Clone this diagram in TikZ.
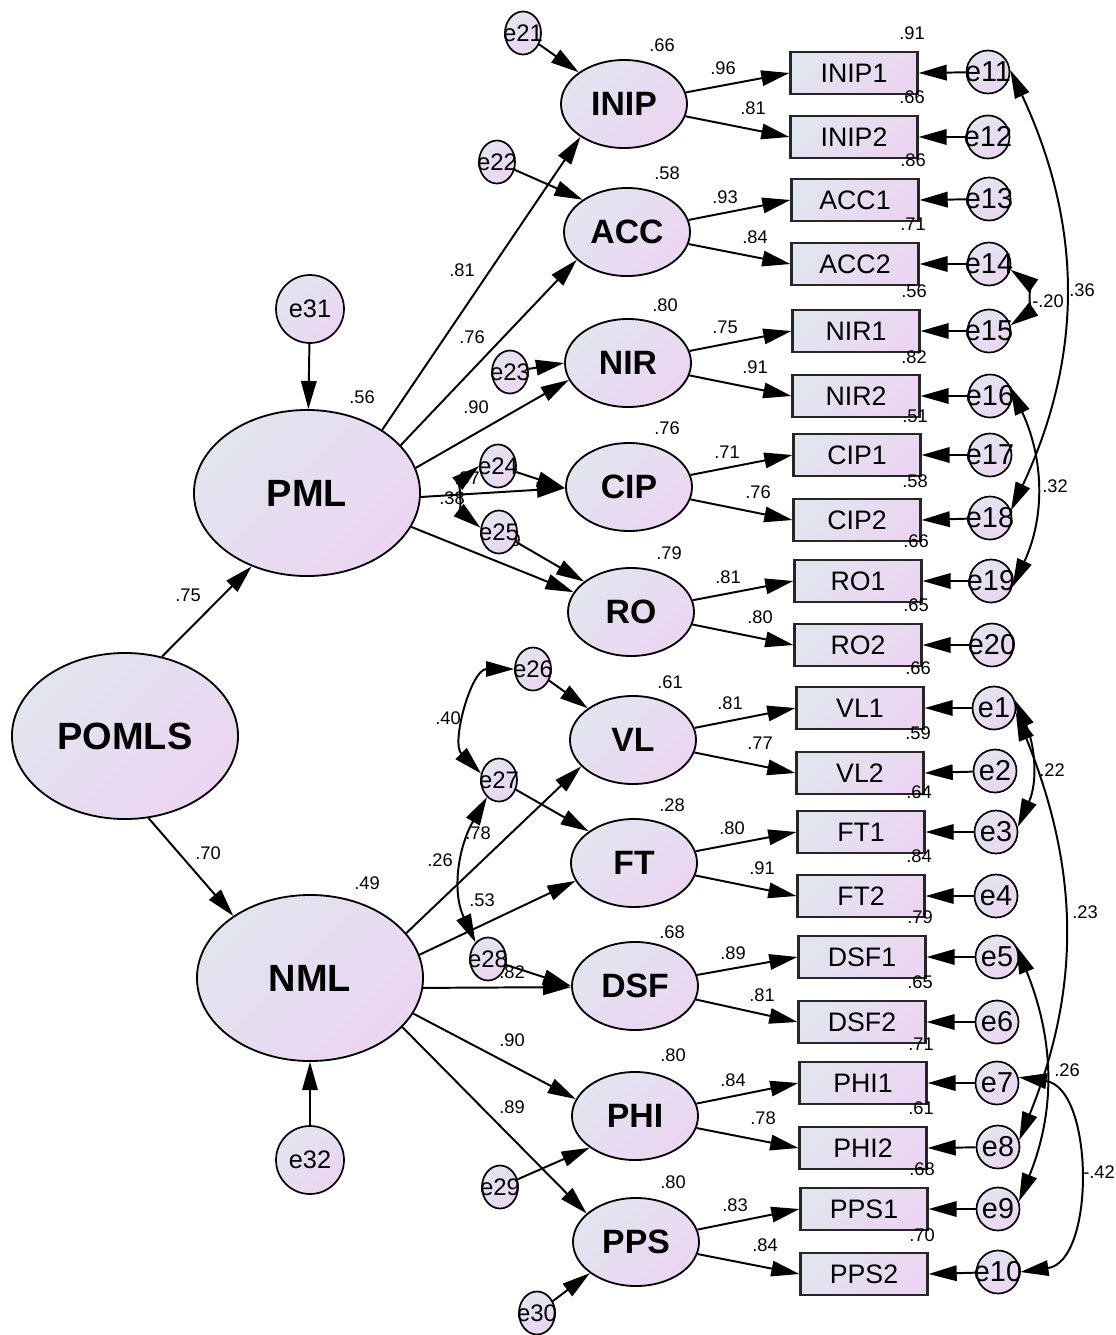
\documentclass[tikz,border=0pt]{standalone}
\usepackage{fontspec}
\setmainfont{Liberation Sans}
\usetikzlibrary{arrows.meta,shapes.geometric}
\definecolor{fillL}{RGB}{225,229,239}
\definecolor{fillR}{RGB}{236,213,242}
\newcommand{\zw}[1]{\makebox[0pt]{#1}}
\tikzset{
  shaded/.style={left color=fillL, right color=fillR, shading angle=45},
  second/.style={ellipse, draw, line width=1.3pt, shaded, minimum width=5.65cm, minimum height=4.15cm,
    font=\fontsize{27}{30}\selectfont\bfseries},
  first/.style={ellipse, draw, line width=1.3pt, shaded, inner sep=1pt, minimum width=3.15cm, minimum height=2.2cm,
    font=\fontsize{24}{28}\selectfont\bfseries},
  obs/.style={rectangle, draw=black!85, line width=1.5pt, shaded, inner sep=0pt, minimum width=3.175cm, minimum height=1.05cm,
    font=\fontsize{19}{22}\selectfont},
  err/.style={circle, draw, line width=1.2pt, shaded, inner sep=0pt, minimum size=1.075cm, font=\fontsize{20.5}{24}\selectfont},
  bigerr/.style={circle, draw, line width=1.2pt, shaded, inner sep=0pt, minimum size=1.7cm, font=\fontsize{18}{21}\selectfont},
  dist/.style={ellipse, draw, line width=1.2pt, shaded, inner sep=0pt, minimum width=0.9cm, minimum height=1.075cm,
    font=\fontsize{17}{20}\selectfont},
  num/.style={inner sep=0pt, font=\fontsize{13}{15}\selectfont},
  reg/.style={-{Triangle[length=20pt,width=11pt]}, line width=1.4pt},
  cov/.style={{Triangle[length=20pt,width=11pt]}-{Triangle[length=20pt,width=11pt]}, line width=1.4pt},
}
\begin{document}
\begin{tikzpicture}[x=0.025cm, y=-0.025cm]
  \useasboundingbox (0,0) rectangle (1116,1335);

  % path and covariance estimates (under the nodes)
  \node[num] at (188,595) {.75};
  \node[num] at (208,853) {.70};
  \node[num] at (462,270) {.81};
  \node[num] at (472,337) {.76};
  \node[num] at (476,407) {.90};
  \node[num] at (467,478) {.87};
  \node[num] at (508,540) {.89};
  \node[num] at (452,498) {.38};
  \node[num] at (448,718) {.40};
  \node[num] at (478,833) {.78};
  \node[num] at (440,860) {.26};
  \node[num] at (482,900) {.53};
  \node[num] at (512,972) {.82};
  \node[num] at (512,1040) {.90};
  \node[num] at (512,1107) {.89};
  \node[num] at (362,397) {.56};
  \node[num] at (367,883) {.49};
  % squared multiple correlations of the factors
  \node[num] at (662,45) {.66};
  \node[num] at (667,173) {.58};
  \node[num] at (665,305) {.80};
  \node[num] at (667,428) {.76};
  \node[num] at (669,553) {.79};
  \node[num] at (670,682) {.61};
  \node[num] at (672,805) {.28};
  \node[num] at (672,932) {.68};
  \node[num] at (673,1055) {.80};
  \node[num] at (673,1182) {.80};
  % loadings
  \node[num] at (723,68) {.96};   \node[num] at (753,108) {.81};
  \node[num] at (725,197) {.93};  \node[num] at (755,237) {.84};
  \node[num] at (725,327) {.75};  \node[num] at (755,367) {.91};
  \node[num] at (727,452) {.71};  \node[num] at (758,492) {.76};
  \node[num] at (728,577) {.81};  \node[num] at (760,617) {.80};
  \node[num] at (730,703) {.81};  \node[num] at (760,743) {.77};
  \node[num] at (732,828) {.80};  \node[num] at (762,868) {.91};
  \node[num] at (733,953) {.89};  \node[num] at (762,995) {.81};
  \node[num] at (733,1080) {.84}; \node[num] at (763,1118) {.78};
  \node[num] at (735,1205) {.83}; \node[num] at (765,1245) {.84};

  % latent variables
  \node[second] (POMLS) at (125,736) {POMLS};
  \node[second] (PML) at (307,493) {PML};
  \node[second] (NML) at (310,978) {NML};
  \node[bigerr] (e31) at (310,309) {e31};
  \node[bigerr] (e32) at (310,1160) {e32};

  \node[first] (INIP) at (624,104) {INIP};
  \node[first] (ACC) at (627,232) {ACC};
  \node[first] (NIR) at (628,363) {NIR};
  \node[first] (CIP) at (629,487) {CIP};
  \node[first] (RO) at (631,612) {RO};
  \node[first] (VL) at (633,740) {VL};
  \node[first] (FT) at (634,863) {FT};
  \node[first] (DSF) at (635,986) {DSF};
  \node[first] (PHI) at (635,1116) {PHI};
  \node[first] (PPS) at (636,1242) {PPS};

  \node[dist] (e21) at (523,33) {\zw{e21}};
  \node[dist] (e22) at (497,162) {\zw{e22}};
  \node[dist] (e23) at (510,372) {\zw{e23}};
  \node[dist] (e24) at (498,466) {\zw{e24}};
  \node[dist] (e25) at (499,532) {\zw{e25}};
  \node[dist] (e26) at (533,669) {\zw{e26}};
  \node[dist] (e27) at (499,780) {\zw{e27}};
  \node[dist] (e28) at (488,959) {\zw{e28}};
  \node[dist] (e29) at (500,1187) {\zw{e29}};
  \node[dist] (e30) at (537,1313) {\zw{e30}};

  % indicators
  \node[obs] (INIP1) at (854,73) {INIP1};
  \node[obs] (INIP2) at (854,137) {INIP2};
  \node[obs] (ACC1) at (855,200) {ACC1};
  \node[obs] (ACC2) at (855,264) {ACC2};
  \node[obs] (NIR1) at (856,331) {NIR1};
  \node[obs] (NIR2) at (856,396) {NIR2};
  \node[obs] (CIP1) at (857,455) {CIP1};
  \node[obs] (CIP2) at (857,520) {CIP2};
  \node[obs] (RO1) at (858,581) {RO1};
  \node[obs] (RO2) at (858,645) {RO2};
  \node[obs] (VL1) at (860,708) {VL1};
  \node[obs] (VL2) at (860,773) {VL2};
  \node[obs] (FT1) at (861,832) {FT1};
  \node[obs] (FT2) at (861,896) {FT2};
  \node[obs] (DSF1) at (862,957) {DSF1};
  \node[obs] (DSF2) at (862,1022) {DSF2};
  \node[obs] (PHI1) at (863,1083) {PHI1};
  \node[obs] (PHI2) at (863,1148) {PHI2};
  \node[obs] (PPS1) at (864,1209) {PPS1};
  \node[obs] (PPS2) at (864,1274) {PPS2};

  \node[err] (e11) at (988,72) {\zw{e11}};
  \node[err] (e12) at (988,137) {\zw{e12}};
  \node[err] (e13) at (989,199) {\zw{e13}};
  \node[err] (e14) at (989,264) {\zw{e14}};
  \node[err] (e15) at (989,331) {\zw{e15}};
  \node[err] (e16) at (990,396) {\zw{e16}};
  \node[err] (e17) at (990,455) {\zw{e17}};
  \node[err] (e18) at (990,518) {\zw{e18}};
  \node[err] (e19) at (991,581) {\zw{e19}};
  \node[err] (e20) at (992,645) {\zw{e20}};
  \node[err] (e1) at (994,708) {e1};
  \node[err] (e2) at (995,771) {e2};
  \node[err] (e3) at (996,832) {e3};
  \node[err] (e4) at (996,896) {e4};
  \node[err] (e5) at (997,957) {e5};
  \node[err] (e6) at (997,1022) {e6};
  \node[err] (e7) at (997,1083) {e7};
  \node[err] (e8) at (998,1147) {e8};
  \node[err] (e9) at (998,1209) {e9};
  \node[err] (e10) at (998,1272) {\zw{e10}};

  % structural paths
  \draw[reg] (POMLS.65) -- (PML.233);
  \draw[reg] (POMLS.-74) -- (NML.141);
  \draw[reg] (e31) -- (PML);
  \draw[reg] (e32) -- (NML);
  \draw[reg] (PML.40) -- (INIP.217);
  \draw[reg] (PML.27) -- (ACC.209);
  \draw[reg] (PML.13) -- (NIR.196);
  \draw[reg] (PML.-2) -- (CIP.181);
  \draw[reg] (PML.-18) -- (RO.161);
  \draw[reg] (NML.25) -- (VL.207);
  \draw[reg] (NML.12) -- (FT.197);
  \draw[reg] (NML.-5) -- (DSF.181);
  \draw[reg] (NML.-19) -- (PHI.164);
  \draw[reg] (NML.-28) -- (PPS.150);
  \draw[reg] (e21) -- (INIP.145);
  \draw[reg] (e22) -- (ACC.144);
  \draw[reg] (e23) -- (NIR.180);
  \draw[reg] (e24) -- (CIP.181);
  \draw[reg] (e25) -- (RO.147);
  \draw[reg] (e26) -- (VL.145);
  \draw[reg] (e27) -- (FT.145);
  \draw[reg] (e28) -- (DSF.180);
  \draw[reg] (e29) -- (PHI.215);
  \draw[reg] (e30) -- (PPS.214);

  % measurement paths
  \draw[reg] (INIP) -- (INIP1.west);  \draw[reg] (INIP) -- (INIP2.west);
  \draw[reg] (ACC) -- (ACC1.west);    \draw[reg] (ACC) -- (ACC2.west);
  \draw[reg] (NIR) -- (NIR1.west);    \draw[reg] (NIR) -- (NIR2.west);
  \draw[reg] (CIP) -- (CIP1.west);    \draw[reg] (CIP) -- (CIP2.west);
  \draw[reg] (RO) -- (RO1.west);      \draw[reg] (RO) -- (RO2.west);
  \draw[reg] (VL) -- (VL1.west);      \draw[reg] (VL) -- (VL2.west);
  \draw[reg] (FT) -- (FT1.west);      \draw[reg] (FT) -- (FT2.west);
  \draw[reg] (DSF) -- (DSF1.west);    \draw[reg] (DSF) -- (DSF2.west);
  \draw[reg] (PHI) -- (PHI1.west);    \draw[reg] (PHI) -- (PHI2.west);
  \draw[reg] (PPS) -- (PPS1.west);    \draw[reg] (PPS) -- (PPS2.west);

  \draw[reg] (e11) -- (INIP1.east);  \draw[reg] (e12) -- (INIP2.east);
  \draw[reg] (e13) -- (ACC1.east);   \draw[reg] (e14) -- (ACC2.east);
  \draw[reg] (e15) -- (NIR1.east);   \draw[reg] (e16) -- (NIR2.east);
  \draw[reg] (e17) -- (CIP1.east);   \draw[reg] (e18) -- (CIP2.east);
  \draw[reg] (e19) -- (RO1.east);    \draw[reg] (e20) -- (RO2.east);
  \draw[reg] (e1) -- (VL1.east);     \draw[reg] (e2) -- (VL2.east);
  \draw[reg] (e3) -- (FT1.east);     \draw[reg] (e4) -- (FT2.east);
  \draw[reg] (e5) -- (DSF1.east);    \draw[reg] (e6) -- (DSF2.east);
  \draw[reg] (e7) -- (PHI1.east);    \draw[reg] (e8) -- (PHI2.east);
  \draw[reg] (e9) -- (PPS1.east);    \draw[reg] (e10) -- (PPS2.east);

  % covariances
  \draw[cov] (e24.180) to[out=219,in=141] (e25.167);
  \draw[cov] (e26.180) to[out=180,in=135] (e27.160);
  \draw[cov] (e27.235) to[out=240,in=115] (e28.127);
  \draw[cov] (e11.5) to[out=-65,in=65] (e18.20);
  \draw[cov] (e14.-15) to[out=-35,in=35] (e15.15);
  \draw[cov] (e16.24) to[out=-65,in=65] (e19.-15);
  \draw[cov] (e1.21) to[out=-66,in=66] (e3.13);
  \draw[cov] (e1.-12) to[out=-68,in=68] (e8.18);
  \draw[cov] (e5.31) to[out=-68,in=68] (e9.20);
  \draw[cov] (e7.15) to[out=-8,in=8] (e10.0);

  % error covariance estimates
  \node[num] at (1082,290) {.36};
  \node[num] at (1048,301) {-.20};
  \node[num] at (1055,486) {.32};
  \node[num] at (1052,770) {.22};
  \node[num] at (1085,912) {.23};
  \node[num] at (1067,1070) {.26};
  \node[num] at (1099,1172) {-.42};

  % squared multiple correlations of the indicators
  \node[num] at (912,33) {.91};
  \node[num] at (912,97) {.66};
  \node[num] at (913,160) {.86};
  \node[num] at (913,224) {.71};
  \node[num] at (914,291) {.56};
  \node[num] at (914,357) {.82};
  \node[num] at (915,416) {.51};
  \node[num] at (915,481) {.58};
  \node[num] at (916,541) {.66};
  \node[num] at (916,605) {.65};
  \node[num] at (918,668) {.66};
  \node[num] at (918,733) {.59};
  \node[num] at (919,792) {.64};
  \node[num] at (919,856) {.84};
  \node[num] at (920,917) {.79};
  \node[num] at (920,982) {.65};
  \node[num] at (921,1044) {.71};
  \node[num] at (921,1108) {.61};
  \node[num] at (922,1169) {.68};
  \node[num] at (922,1235) {.70};
\end{tikzpicture}
\end{document}
